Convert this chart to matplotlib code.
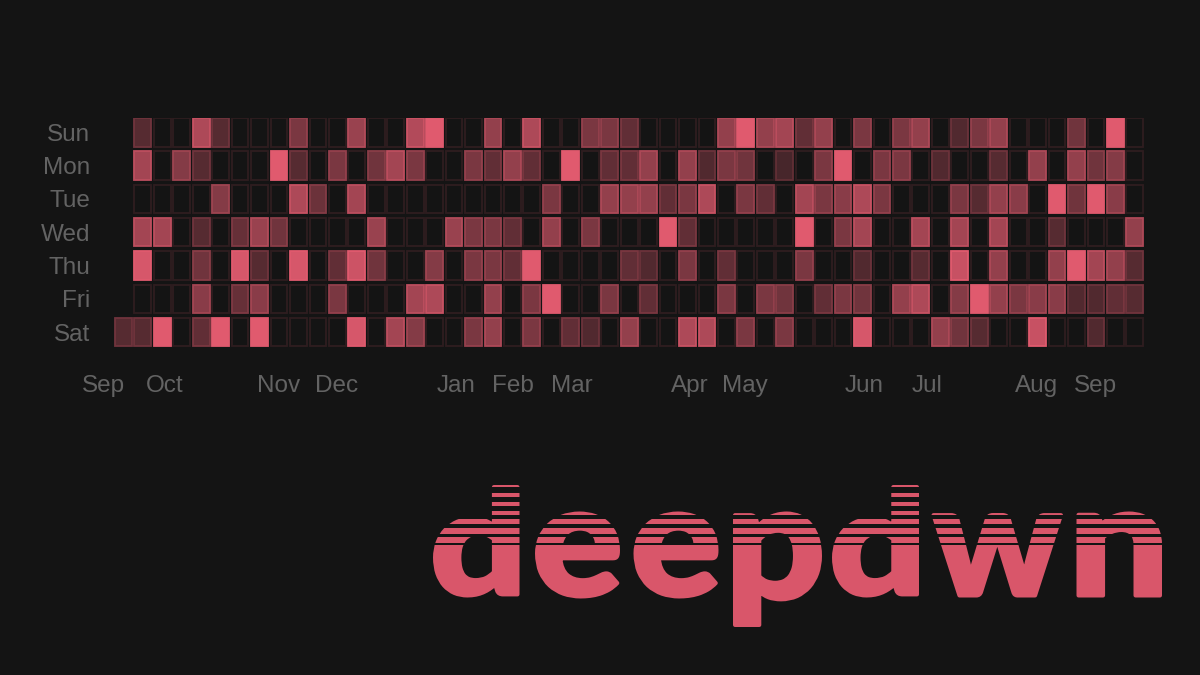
import matplotlib
matplotlib.use("Agg")
import matplotlib.pyplot as plt
from matplotlib.patches import Rectangle, PathPatch
from matplotlib.path import Path
from matplotlib.textpath import TextPath
from matplotlib.font_manager import FontProperties
import numpy as np

# ---------------- data ----------------
days = ["Sun", "Mon", "Tue", "Wed", "Thu", "Fri", "Sat"]
months = ["Sep", "Oct", "Nov", "Dec", "Jan", "Feb", "Mar", "Apr", "May",
          "Jun", "Jul", "Aug", "Sep"]
# activity level per week column (0 = none, 4 = max); None = no day
sun = [None, 1.3, 0, 0, 3, 1.3, 0, 0, 0, 2, 0, 0, 2.6, 0, 0, 3.1, 4, 0, 0, 2.5,
       0, 3, 0, 0, 2, 2, 1.5, 0, 0, 0, 0, 2.5, 4, 2.5, 2.8, 1.5, 2.5, 0, 2, 0,
       2, 2.5, 0, 1.2, 2, 2.5, 0, 0, 0, 1.8, 0, 4, 0]
mon = [None, 2.8, 0, 2.2, 1.3, 0, 0, 0, 4, 1.3, 0, 2, 0, 1.8, 2.8, 2, 0, 0, 2,
       1.5, 2.5, 1.5, 0, 4, 0, 1.5, 1.5, 2.5, 0, 2.5, 1.2, 2, 1.8, 0, 1, 0, 2,
       4, 0, 2, 2, 0, 1.2, 0, 0, 1.3, 0, 2.5, 0, 2.5, 1.8, 2.2, 0]
tue = [None, 0, 0, 0, 0, 2.2, 0, 0, 0, 3, 1.7, 0, 2.8, 0, 0, 0, 0, 0, 0, 0,
       0, 0, 2, 0, 0, 2.5, 2.5, 2.5, 1.5, 2, 3, 0, 2, 1.5, 0, 2.8, 2, 2.3, 3,
       2, 0, 0, 0, 2, 1.3, 2.5, 2.3, 0, 4, 1.8, 4, 2.3, 0]
wed = [None, 2.8, 2.8, 0, 1.3, 0, 1.6, 2.6, 1.8, 0, 0, 0, 0, 2.6, 0, 0, 0,
       2.6, 2, 2, 1.5, 0, 2.5, 0, 2, 0, 0, 0, 4, 1.5, 0, 0, 0, 0, 0, 4, 0, 2,
       2.8, 0, 0, 2.8, 0, 2.8, 0, 2.8, 0, 0, 1.3, 0, 0, 0, 2.5]
thu = [None, 3.8, 0, 0, 1.8, 0, 3.8, 1.3, 0, 3.8, 0, 1.5, 3.6, 1.8, 0, 0, 2.2,
       0, 2, 2, 1.5, 4, 0, 0, 0, 0, 1.5, 1.2, 0, 2, 0, 1.5, 0, 0, 0, 2, 0, 0,
       1.2, 0, 0, 1.3, 0, 3.5, 0, 2.5, 0, 0, 2.5, 4, 2.8, 2.5, 1.3]
fri = [None, 0, 0, 0, 2.3, 0, 1.6, 2.3, 0, 0, 0, 2, 0, 0, 0, 2.8, 3, 0, 0,
       2.5, 0, 2, 4, 0, 0, 2, 0, 1.5, 0, 0, 0, 2, 0, 2, 1.8, 0, 1.5, 2, 1.8,
       0, 2.5, 3, 0, 2.2, 4, 2.5, 2, 2.3, 2.3, 1.2, 1.2, 1.5, 1.3]
sat = [1.3, 1.3, 4, 0, 1.5, 4, 0, 4, 0, 0, 0, 0, 3.8, 0, 2.8, 2.2, 0, 0, 2,
       2.5, 0, 2, 0, 1.5, 1.2, 0, 2.5, 0, 0, 3, 3, 0, 2, 0, 2, 0, 0, 0, 3.8,
       0, 0, 0, 2.5, 1.8, 1.3, 0, 0, 3.5, 0, 0, 1.2, 0, 0]
logo_text = "deepdwn"

# ---------------- style ----------------
BG = "#141414"
PINK = np.array([224, 90, 110]) / 255.0
BGC = np.array([20, 20, 20]) / 255.0
LOGO = "#d9566a"
TXT = "#636363"
W, H = 1200, 675

plt.rcParams["font.family"] = ["Liberation Sans", "DejaVu Sans"]

fig = plt.figure(figsize=(12, 6.75), dpi=100, facecolor=BG)

# ---------- heatmap ----------
px_col, px_row = 19.45, 33.33
left_px, top_px = 115, 118
ncol = len(sat)
# axes spans one extra (empty) column on the left so the first month label fits
ax_left_px = left_px - px_col
ax = fig.add_axes([ax_left_px / W, 1 - (top_px + 7 * px_row) / H,
                   (ncol + 1) * px_col / W, 7 * px_row / H])
ax.set_facecolor("none")

cw, chh = 16.8 / px_col, 28.5 / px_row


def blend(a):
    a = max(0.0, min(1.0, a))
    return tuple(BGC + (PINK - BGC) * a)


rows = [sun, mon, tue, wed, thu, fri, sat]
for r, vals in enumerate(rows):
    for c, v in enumerate(vals):
        if v is None:
            continue
        a = v / 4.0
        fc = blend(a)
        ec = blend(a + 0.13)
        ax.add_patch(Rectangle((c, r), cw, chh, facecolor=fc, edgecolor=ec,
                               linewidth=1.3))

for s in ax.spines.values():
    s.set_visible(False)
ax.set_yticks(np.arange(7) + chh / 2)
ax.set_yticklabels(days)
month_pos = [-0.586, 2.555, 8.427, 11.414, 17.517, 20.437, 23.465, 29.563,
             32.36, 38.51, 41.74, 47.40, 50.42]
ax.set_xticks(month_pos)
ax.set_xticklabels(months)
ax.set_xlim(-1, ncol)
ax.set_ylim(7, 0)
ax.tick_params(axis="both", length=0, colors=TXT, labelsize=17.5)
ax.tick_params(axis="y", pad=(ax_left_px - 90.5) * 0.72)
ax.tick_params(axis="x", pad=17)

# ---------- logo ----------
lax = fig.add_axes([0, 0, 1, 1])
lax.set_xlim(0, W)
lax.set_ylim(H, 0)
lax.axis("off")
lax.set_facecolor("none")

fp = FontProperties(family="Lato", weight="black")
stroke = 2.0  # px added on each side by the outline
boxes = [(433, 519.5, 485, 597.5), (535, 620, 511.5, 598.5),
         (633.5, 718.5, 511.5, 598.5), (733, 822, 511.5, 627),
         (832, 919, 485, 597.5), (931.5, 1063, 513, 597.5),
         (1076.5, 1162, 511.5, 597.5)]
for ch, (x0, x1, y0, y1) in zip(logo_text, boxes):
    x0, x1, y0, y1 = x0 + stroke, x1 - stroke, y0 + stroke, y1 - stroke
    tp = TextPath((0, 0), ch, size=100, prop=fp)
    ext = tp.get_extents()
    v = tp.vertices.copy()
    nx = x0 + (v[:, 0] - ext.x0) / ext.width * (x1 - x0)
    ny = y1 - (v[:, 1] - ext.y0) / ext.height * (y1 - y0)
    p = Path(np.column_stack([nx, ny]), tp.codes)
    lax.add_patch(PathPatch(p, facecolor=LOGO, edgecolor=LOGO,
                            linewidth=stroke * 2 * 0.72, joinstyle="round",
                            zorder=2))

gaps = [(487.3, 493.3), (496.7, 502.3), (505.7, 510.7), (515, 519.3),
        (524.3, 528.3), (534, 536.7), (543.3, 545)]
for g0, g1 in gaps:
    lax.add_patch(Rectangle((425, g0), 745, g1 - g0, facecolor=BG,
                            edgecolor="none", zorder=3))

fig.savefig("out.png", dpi=100, facecolor=BG)
